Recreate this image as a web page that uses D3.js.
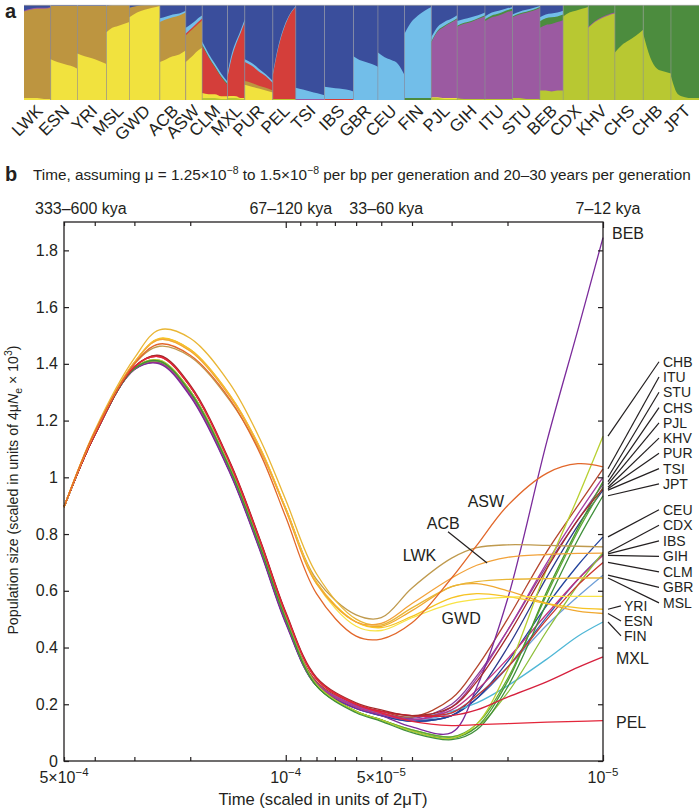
<!DOCTYPE html>
<html><head><meta charset="utf-8">
<script src="https://cdn.jsdelivr.net/npm/d3@7"></script>
<style>
body{margin:0;background:#fff;}
svg{display:block;font-family:"Liberation Sans",Arial,Helvetica,sans-serif;}
</style>
</head><body>
<svg id="chart" width="700" height="811"></svg>
<script>
// ---------- DATA ----------
const populations = ["LWK","ESN","YRI","MSL","GWD","ACB","ASW","CLM","MXL","PUR","PEL","TSI","IBS","GBR","CEU","FIN","PJL","GIH","ITU","STU","BEB","CDX","KHV","CHS","CHB","JPT"];
const sampleSizes = [99,99,108,85,113,96,61,94,64,104,85,107,107,91,99,99,96,103,102,102,86,93,99,105,103,104];

// admixture components (bottom -> top), each: per population sorted profile (5 points) or 0
const components = ["lime","yellow","brown","red","purple","green","lblue","blue"];
const componentColors = ["#B8C832","#F1E23E","#BD9540","#D43E3A","#9B5AA1","#4C8C3E","#72BEE9","#3A4E9C"];
const admixLime = [0,0,0,0,0,0,0,[.02,.02,.02,.01,.01],[.02,.02,.02,.01,.01],0,[.01,.01,.01,.01,.01],0,0,0,0,0,[.02,.02,.01,.01,.01],[.02,.01,.01,.01,.01],[.01,.01,.01,.01,.01],[.02,.02,.01,.01,.01],[.10,.10,.09,.10,.10],[.88,.92,.94,.96,.98],[.76,.82,.86,.89,.91],[.50,.58,.63,.68,.74],[.70,.45,.33,.30,.28],[.25,.06,.03,.02,.02]];
const admixYellow = [[.02,.02,.02,.01,.01],[.43,.40,.38,.36,.33],[.49,.46,.44,.41,.38],[.72,.76,.78,.80,.82],[.87,.92,.95,.97,.99],[.40,.43,.46,.48,.52],[.40,.44,.48,.52,.55],[.05,.04,.04,.03,.03],[.02,.02,.02,.01,.01],[.16,.14,.12,.10,.08],0,0,0,0,0,0,[.01,.01,.01,.01,.01],0,0,0,0,0,0,0,0,0];
const admixBrown = [[.92,.94,.95,.96,.97],[.56,.59,.61,.63,.66],[.50,.53,.55,.58,.61],[.28,.24,.22,.20,.18],[.10,.07,.05,.03,.01],[.42,.42,.41,.41,.40],[.28,.28,.28,.28,.29],0,0,[.04,.04,.03,.03,.02],0,0,0,0,0,0,0,0,0,0,0,0,0,0,0,0];
const admixRed = [0,0,0,0,0,0,[.02,.02,.02,.02,.02],[.48,.38,.28,.20,.12],[.20,.40,.55,.68,.80],[.20,.18,.15,.12,.08],[.25,.55,.75,.88,.97],0,[.01,.01,.01,.01,.01],0,0,0,0,0,0,0,0,0,0,0,0,0];
const admixPurple = [[.01,.01,.01,.01,.01],0,0,0,0,0,0,0,0,0,0,[.01,.01,.01,.01,.01],0,0,0,0,[.58,.70,.76,.80,.84],[.76,.80,.82,.85,.88],[.82,.86,.88,.90,.93],[.85,.88,.90,.92,.94],[.66,.69,.71,.72,.74],0,[.01,.01,.01,.01,.01],0,0,0];
const admixGreen = [0,0,0,0,0,0,0,[.01,.01,.01,.01,.01],0,0,0,0,0,0,0,[.02,.02,.02,.02,.02],[.01,.01,.01,.01,.01],[.01,.01,.01,.01,.01],[.02,.02,.02,.02,.02],[.01,.01,.01,.01,.01],[.07,.07,.07,.06,.06],[.12,.08,.06,.04,.02],[.23,.17,.13,.10,.08],[.50,.42,.37,.32,.26],[.30,.55,.67,.70,.72],[.75,.94,.97,.98,.98]];
const admixLightBlue = [0,0,0,0,0,[.04,.03,.03,.02,.02],[.06,.05,.04,.04,.03],[.03,.03,.03,.03,.02],[.04,.04,.03,.03,.03],[.03,.03,.03,.02,.02],[.02,.02,.02,.01,.01],[.12,.10,.08,.06,.04],[.13,.12,.11,.10,.08],[.46,.42,.40,.38,.35],[.50,.45,.42,.38,.26],[.68,.80,.87,.92,.96],[.05,.04,.04,.03,.03],[.05,.04,.04,.03,.03],[.03,.03,.03,.02,.02],[.02,.02,.02,.02,.01],[.04,.04,.04,.04,.04],0,0,0,0,0];
const admixBlue = [[.06,.04,.03,.03,.02],[.01,.01,.01,.01,.01],[.01,.01,.01,.01,.01],[.01,0,0,0,0],[.03,.01,0,0,0],[.14,.12,.10,.09,.06],[.24,.21,.18,.14,.11],[.37,.50,.61,.72,.80],[.72,.50,.38,.27,.15],[.57,.61,.67,.73,.80],[.72,.42,.22,.09,.01],[.87,.89,.91,.93,.95],[.86,.87,.88,.89,.91],[.54,.58,.60,.62,.65],[.50,.55,.58,.62,.74],[.30,.18,.11,.06,.02],[.34,.23,.18,.15,.11],[.17,.15,.13,.11,.08],[.12,.08,.06,.04,.02],[.10,.07,.05,.03,.01],[.13,.10,.09,.08,.06],0,0,0,0,0];

// panel b: population size history
const timePoints = [5e-4,4e-4,3e-4,2.5e-4,2e-4,1.5e-4,1.2e-4,1e-4,8e-5,6e-5,5e-5,4e-5,3e-5,2.5e-5,2e-5,1.5e-5,1.2e-5,1e-5];
const curveNames = ["TSI","IBS","GBR","CEU","FIN","PJL","GIH","ITU","STU","BEB","CDX","KHV","CHS","CHB","JPT","CLM","MXL","PUR","PEL","LWK","ESN","YRI","MSL","GWD","ACB","ASW"];
const curveColors = ["#2C3A8C","#3E5CB0","#6F9FD8","#23439C","#4FB7D6","#8B3E98","#C2307F","#B4452D","#A53B9E","#7B2B9B","#8FBF3A","#5EA834","#4A9A30","#B8D030","#3F8F3A","#C8342E","#D6203D","#A52A2A","#E3263A","#BF9A4E","#F0A830","#F6C324","#E9B635","#F8E345","#F2A23A","#E2672A"];
const curveValues = [
 [0.895,1.15,1.382,1.405,1.29,1.02,0.74,0.49,0.27,0.19,0.165,0.145,0.16,0.24,0.40,0.65,0.83,0.955],
 [0.895,1.15,1.383,1.407,1.295,1.025,0.745,0.495,0.27,0.19,0.16,0.14,0.16,0.22,0.33,0.51,0.64,0.73],
 [0.895,1.15,1.38,1.403,1.29,1.02,0.74,0.49,0.265,0.185,0.16,0.145,0.17,0.23,0.33,0.48,0.58,0.655],
 [0.895,1.15,1.382,1.405,1.29,1.02,0.74,0.49,0.265,0.185,0.16,0.14,0.16,0.22,0.35,0.55,0.69,0.79],
 [0.895,1.15,1.384,1.41,1.30,1.03,0.75,0.50,0.275,0.19,0.165,0.155,0.175,0.205,0.265,0.36,0.44,0.49],
 [0.895,1.15,1.383,1.407,1.295,1.025,0.745,0.495,0.275,0.195,0.17,0.15,0.20,0.30,0.46,0.69,0.85,0.975],
 [0.895,1.15,1.38,1.402,1.29,1.02,0.74,0.49,0.27,0.19,0.165,0.145,0.18,0.25,0.36,0.52,0.64,0.725],
 [0.895,1.15,1.384,1.41,1.30,1.03,0.75,0.50,0.28,0.20,0.175,0.155,0.22,0.33,0.50,0.74,0.90,1.03],
 [0.895,1.15,1.383,1.408,1.295,1.025,0.745,0.495,0.275,0.195,0.17,0.145,0.19,0.29,0.46,0.70,0.87,1.00],
 [0.895,1.15,1.38,1.40,1.285,1.015,0.735,0.485,0.265,0.185,0.16,0.12,0.10,0.26,0.57,1.13,1.52,1.845],
 [0.895,1.15,1.383,1.408,1.30,1.03,0.75,0.50,0.265,0.175,0.145,0.11,0.085,0.12,0.24,0.46,0.62,0.735],
 [0.895,1.15,1.384,1.41,1.30,1.03,0.75,0.50,0.265,0.175,0.145,0.11,0.085,0.13,0.29,0.59,0.81,0.965],
 [0.895,1.15,1.385,1.412,1.305,1.035,0.755,0.505,0.27,0.175,0.145,0.105,0.08,0.12,0.28,0.60,0.82,0.985],
 [0.895,1.15,1.386,1.413,1.305,1.035,0.755,0.505,0.27,0.175,0.145,0.105,0.08,0.13,0.32,0.68,0.93,1.145],
 [0.895,1.15,1.384,1.41,1.30,1.03,0.75,0.50,0.265,0.17,0.14,0.10,0.075,0.11,0.26,0.56,0.78,0.935],
 [0.895,1.15,1.39,1.425,1.32,1.05,0.77,0.52,0.29,0.20,0.175,0.16,0.17,0.23,0.33,0.50,0.62,0.70],
 [0.895,1.15,1.39,1.428,1.32,1.05,0.77,0.52,0.29,0.20,0.175,0.16,0.16,0.18,0.225,0.28,0.33,0.367],
 [0.895,1.15,1.39,1.43,1.325,1.055,0.775,0.525,0.295,0.205,0.18,0.16,0.19,0.28,0.44,0.68,0.85,0.96],
 [0.895,1.15,1.39,1.425,1.32,1.05,0.77,0.52,0.29,0.20,0.17,0.14,0.125,0.128,0.132,0.137,0.14,0.142],
 [0.895,1.16,1.40,1.462,1.425,1.27,1.09,0.89,0.64,0.515,0.505,0.61,0.715,0.752,0.762,0.76,0.757,0.755],
 [0.895,1.16,1.405,1.488,1.45,1.29,1.10,0.89,0.63,0.49,0.475,0.53,0.615,0.625,0.60,0.555,0.528,0.52],
 [0.895,1.16,1.405,1.49,1.45,1.29,1.10,0.89,0.63,0.49,0.47,0.51,0.575,0.59,0.58,0.555,0.54,0.535],
 [0.895,1.165,1.42,1.52,1.49,1.33,1.13,0.92,0.66,0.50,0.48,0.54,0.615,0.632,0.64,0.643,0.645,0.645],
 [0.895,1.16,1.405,1.485,1.445,1.285,1.095,0.885,0.625,0.475,0.46,0.505,0.555,0.57,0.577,0.58,0.58,0.58],
 [0.895,1.16,1.405,1.485,1.445,1.285,1.095,0.885,0.625,0.49,0.485,0.555,0.645,0.69,0.718,0.728,0.732,0.733],
 [0.895,1.16,1.40,1.47,1.43,1.275,1.08,0.86,0.59,0.44,0.43,0.487,0.645,0.76,0.90,1.015,1.048,1.037]
];
const xTickValues = [5e-4,4e-4,3e-4,2e-4,1e-4,9e-5,8e-5,7e-5,6e-5,5e-5,4e-5,3e-5,2e-5,1e-5];
const xLabelTicks = [[5e-4,"5×10","−4"],[1e-4,"10","−4"],[5e-5,"5×10","−5"],[1e-5,"10","−5"]];
const yTickValues = [0,0.2,0.4,0.6,0.8,1.0,1.2,1.4,1.6,1.8];
const kyaLabels = [[5e-4,"333–600 kya"],[1e-4,"67–120 kya"],[5e-5,"33–60 kya"],[1e-5,"7–12 kya"]];

// right-hand label layout (label slot in y units)
const longLeaderNames = ["CHB","ITU","STU","CHS","PJL","KHV","PUR","TSI","JPT","CEU","CDX","IBS","GIH","CLM","GBR","MSL"];
const longLeaderSlots = [1.4074,1.3534,1.2998,1.2459,1.1922,1.1382,1.0846,1.0307,0.9771,0.8854,0.8307,0.7760,0.7213,0.6667,0.6120,0.5573];
const shortLeaderNames = ["YRI","ESN","FIN"];
const shortLeaderSlots = [0.5467,0.4938,0.4409];
const directLabelNames = ["BEB","MXL","PEL"];
const directLabelSlots = [1.859,0.363,0.138];
// in-plot labels [name, time, value]
const inPlotLabels = [["ASW",2.34e-5,0.914],["ACB",3.19e-5,0.839],["LWK",3.79e-5,0.727],["GWD",2.8e-5,0.504]];
const acbLeader = [[3.08e-5,0.808],[2.32e-5,0.698]];

// ---------- DRAW ----------
const svg = d3.select("#chart");
const ink = "#231f20";

// Panel a
const admixArrays = [admixLime,admixYellow,admixBrown,admixRed,admixPurple,admixGreen,admixLightBlue,admixBlue];
const total = d3.sum(sampleSizes);
const cum = [0]; sampleSizes.forEach(s => cum.push(cum[cum.length-1]+s));
const popX = d3.scaleLinear().domain([0,total]).range([24,699]);
const ay = d3.scaleLinear().domain([0,1]).range([100,5]);
const ga = svg.append("g");
const B = 5;
populations.forEach((p,i) => {
  const x0 = popX(cum[i]), x1 = popX(cum[i+1]);
  const rows = d3.range(B).map(b => {
    const r = {bin:b};
    components.forEach((c,k) => { const a = admixArrays[k][i]; r[c] = a ? a[b] : 0; });
    return r;
  });
  const series = d3.stack().keys(components).offset(d3.stackOffsetExpand)(rows);
  const bx = d3.scaleLinear().domain([0,B-1]).range([x0,x1]);
  const area = d3.area().x(d => bx(d.data.bin)).y0(ay(0)).y1(d => ay(d[1])).curve(d3.curveMonotoneX);
  const gp = ga.append("g");
  series.slice().reverse().forEach(s => {
    if (d3.max(s, d => d[1]-d[0]) <= 0) return;
    gp.append("path").attr("d", area(s)).attr("fill", componentColors[s.index]);
  });
});
// separators
ga.selectAll("line.sep").data(cum.slice(1,-1)).join("line")
  .attr("x1", d => popX(d)).attr("x2", d => popX(d)).attr("y1",5).attr("y2",100)
  .attr("stroke","#9a9a9a").attr("stroke-width",0.7).attr("opacity",0.8);
ga.append("line").attr("x1",24).attr("x2",699).attr("y1",5.3).attr("y2",5.3).attr("stroke","#aaa").attr("stroke-width",0.8);
// population labels
ga.selectAll("text.pop").data(populations).join("text")
  .attr("transform",(d,i) => `translate(${(popX(cum[i])+popX(cum[i+1]))/2+6.5},112) rotate(-45)`)
  .attr("text-anchor","end").attr("font-size",17).attr("fill",ink).text(d => d);
svg.append("text").attr("x",5).attr("y",18).attr("font-size",20).attr("font-weight","bold").attr("fill",ink).text("a");

// Panel b
const x = d3.scaleLog().domain([5e-4,1e-5]).range([64,603]);
const y = d3.scaleLinear().domain([0,1.9]).range([761,222]);
const gb = svg.append("g");

// header
svg.append("text").attr("x",5).attr("y",181).attr("font-size",20).attr("font-weight","bold").attr("fill",ink).text("b");
const hdr = svg.append("text").attr("x",33).attr("y",180).attr("font-size",15.3).attr("fill",ink);
hdr.append("tspan").text("Time, assuming μ = 1.25×10");
hdr.append("tspan").attr("dy",-6).attr("font-size",10.5).text("−8");
hdr.append("tspan").attr("dy",6).text(" to 1.5×10");
hdr.append("tspan").attr("dy",-6).attr("font-size",10.5).text("−8");
hdr.append("tspan").attr("dy",6).text(" per bp per generation and 20–30 years per generation");

// kya labels
svg.selectAll("text.kya").data(kyaLabels).join("text")
  .attr("x",(d,i) => i === 0 ? x(d[0]) - 29 : x(d[0]) + 5)
  .attr("y",214).attr("text-anchor",(d,i) => i === 0 ? "start" : "middle")
  .attr("font-size",16).attr("fill",ink).text(d => d[1]);

// curves
const lineGen = d3.line().x((d,i) => x(timePoints[i])).y(d => y(d)).curve(d3.curveCatmullRom.alpha(0.5));
gb.selectAll("path.curve").data(curveValues).join("path")
  .attr("d", d => lineGen(d)).attr("fill","none")
  .attr("stroke",(d,i) => curveColors[i]).attr("stroke-width",1.3);

// axes
function styleAxis(g){ g.select(".domain").remove(); g.selectAll("line").attr("stroke",ink).attr("stroke-width",1.2); }
gb.append("g").attr("transform","translate(0,761)")
  .call(d3.axisBottom(x).tickValues(xTickValues).tickSize(-4).tickSizeOuter(0).tickFormat(""))
  .call(styleAxis).selectAll(".tick line").attr("y2", d => (d===1e-4||d===1e-5) ? -6 : -4);
gb.append("g").attr("transform","translate(0,222)")
  .call(d3.axisTop(x).tickValues(xTickValues).tickSize(-4).tickSizeOuter(0).tickFormat(""))
  .call(styleAxis).selectAll(".tick line").attr("y2", d => (d===1e-4||d===1e-5) ? 6 : 4);
const fmt = d3.format(".1~f");
gb.append("g").attr("transform","translate(64,0)")
  .call(d3.axisLeft(y).tickValues(yTickValues).tickSize(-5).tickSizeOuter(0).tickPadding(6).tickFormat(fmt))
  .call(styleAxis)
  .call(g => g.selectAll("text").attr("font-size",16).attr("fill",ink).attr("font-family",null));
gb.append("g").attr("transform","translate(603,0)")
  .call(d3.axisRight(y).tickValues(yTickValues).tickSize(-5).tickSizeOuter(0).tickFormat(""))
  .call(styleAxis);
gb.append("rect").attr("x",64).attr("y",222).attr("width",539).attr("height",539)
  .attr("fill","none").attr("stroke",ink).attr("stroke-width",1.3);

// x tick labels
xLabelTicks.forEach(d => {
  const t = gb.append("text").attr("x",x(d[0])).attr("y",783).attr("text-anchor","middle").attr("font-size",16).attr("fill",ink);
  t.append("tspan").text(d[1]);
  t.append("tspan").attr("dy",-7).attr("font-size",11.5).text(d[2]);
});

// axis titles
const yt = svg.append("text").attr("transform","translate(18,490) rotate(-90)").attr("text-anchor","middle").attr("font-size",14.2).attr("fill",ink);
yt.append("tspan").text("Population size (scaled in units of 4μ");
yt.append("tspan").attr("font-style","italic").text("N");
yt.append("tspan").attr("dy",4).attr("font-size",10.5).text("e");
yt.append("tspan").attr("dy",-4).text(" × 10");
yt.append("tspan").attr("dy",-6).attr("font-size",10.5).text("3");
yt.append("tspan").attr("dy",6).text(")");
svg.append("text").attr("x",323).attr("y",805).attr("text-anchor","middle").attr("font-size",16.6).attr("fill",ink).text("Time (scaled in units of 2μT)");

// right labels
const endVal = name => { const v = curveValues[curveNames.indexOf(name)]; return v[v.length-1]; };
const xr = x(1e-5);
const lblSize = 14;
longLeaderNames.forEach((n,i) => {
  gb.append("line").attr("x1",xr+5).attr("y1",y(endVal(n))).attr("x2",xr+56).attr("y2",y(longLeaderSlots[i]))
    .attr("stroke",ink).attr("stroke-width",1.2);
  gb.append("text").attr("x",xr+60).attr("y",y(longLeaderSlots[i])).attr("dy","0.36em").attr("font-size",lblSize).attr("fill",ink).text(n);
});
shortLeaderNames.forEach((n,i) => {
  gb.append("line").attr("x1",xr+5).attr("y1",y(endVal(n))).attr("x2",xr+18).attr("y2",y(shortLeaderSlots[i]))
    .attr("stroke",ink).attr("stroke-width",1.2);
  gb.append("text").attr("x",xr+21).attr("y",y(shortLeaderSlots[i])).attr("dy","0.36em").attr("font-size",lblSize).attr("fill",ink).text(n);
});
directLabelNames.forEach((n,i) => {
  gb.append("text").attr("x",xr + (i===0 ? 9 : 13)).attr("y",y(directLabelSlots[i])).attr("dy","0.36em").attr("font-size",16).attr("fill",ink).text(n);
});
// in-plot labels
inPlotLabels.forEach(d => {
  gb.append("text").attr("x",x(d[1])).attr("y",y(d[2])).attr("dy","0.36em").attr("text-anchor","middle").attr("font-size",16).attr("fill",ink).text(d[0]);
});
gb.append("line").attr("x1",x(acbLeader[0][0])).attr("y1",y(acbLeader[0][1])).attr("x2",x(acbLeader[1][0])).attr("y2",y(acbLeader[1][1]))
  .attr("stroke",ink).attr("stroke-width",1.2);
</script>
</body></html>
